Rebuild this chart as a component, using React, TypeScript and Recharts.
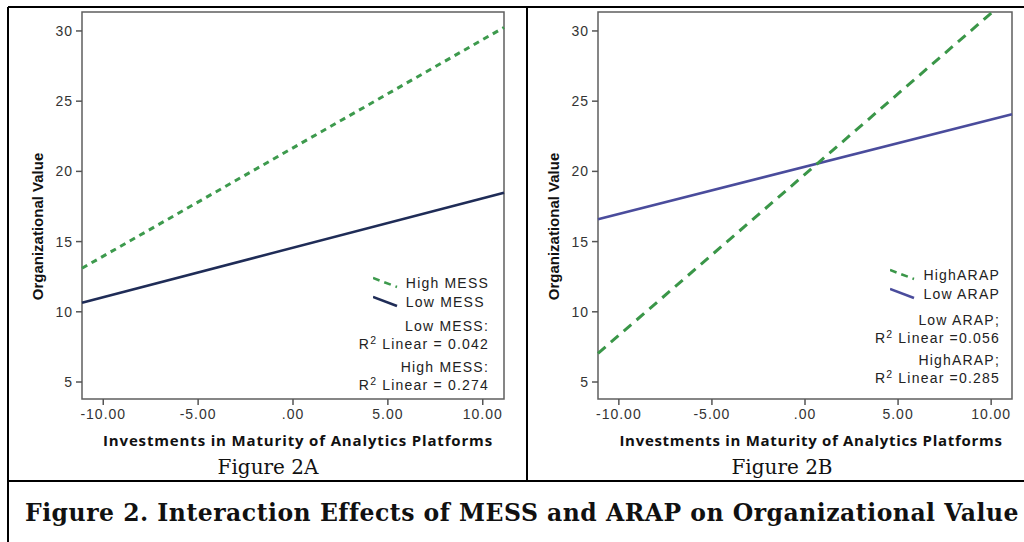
import { LineChart, Line, XAxis, YAxis, ReferenceArea, Legend } from "recharts";

// regression line end points, read at the left and right edge of each plot
const xEnds = [-11.12, 11.12];
const highMess = [13.1, 30.25];
const lowMess = [10.65, 18.48];
const highArap = [7.04, 32.55];
const lowArap = [16.59, 24.07];

const xDomain = [-11.12, 11.12];
const yDomain = [3.79, 31.35];
const xTicks = [-10, -5, 0, 5, 10];
const yTicks = [5, 10, 15, 20, 25, 30];

const messNames = ["High MESS", "Low MESS"];
const arapNames = ["HighARAP", "Low ARAP"];
const messFits = ["Low MESS:", " Linear = 0.042", "High MESS:", " Linear = 0.274"];
const arapFits = ["Low ARAP;", " Linear =0.056", "HighARAP;", " Linear =0.285"];

const SANS = '"Liberation Sans", Arial, sans-serif';
const SERIF = 'Georgia, "DejaVu Serif", serif';
const xTitle = "Investments in Maturity of Analytics Platforms";
const yTitle = "Organizational Value";

const fmtX = (v: number) => (v === 0 ? ".00" : v.toFixed(2));

function LegendBox({ payload, fits, gaps }: any) {
  const items = (payload || []).slice().sort((a: any, b: any) => (a.dataKey === "high" ? -1 : 1));
  const row = { lineHeight: "18.5px", whiteSpace: "nowrap" as const };
  const fitLine = (label: string, r2: string, mt: number) => (
    <div style={{ marginTop: mt, textAlign: "right", lineHeight: "17.5px" }}>
      <div>{label}</div>
      <div>
        R<span style={{ fontSize: 10.5, position: "relative", top: -5 }}>2</span>
        {r2}
      </div>
    </div>
  );
  return (
    <div style={{ fontFamily: SANS, fontSize: 14, letterSpacing: 1.2, color: "#222" }}>
      <div style={{ display: "grid", gridTemplateColumns: "auto auto", justifyContent: "end", columnGap: 8 }}>
        {items.map((it: any) => (
          <div key={it.value} style={{ display: "contents" }}>
            <svg width={25} height={18.5} style={{ display: "block" }}>
              <line
                x1={0} y1={4} x2={24} y2={13}
                stroke={it.color}
                strokeWidth={2.5}
                strokeDasharray={it.dataKey === "high" ? "7 5" : undefined}
              />
            </svg>
            <div style={row}>{it.value}</div>
          </div>
        ))}
      </div>
      {fitLine(fits[0], fits[1], gaps[0])}
      {fitLine(fits[2], fits[3], gaps[1])}
    </div>
  );
}

function Panel(p: any) {
  const data = xEnds.map((x, i) => ({ x, high: p.high[i], low: p.low[i] }));
  return (
    <div style={{ position: "absolute", left: p.left, top: 0, fontFamily: SANS }}>
      <LineChart width={p.width} height={450} data={data} margin={{ top: 12, right: p.marginRight, left: 0, bottom: 0 }}>
        <XAxis
          type="number"
          dataKey="x"
          domain={xDomain}
          ticks={xTicks}
          interval={0}
          tickFormatter={fmtX}
          height={51}
          axisLine={false}
          tickSize={6}
          tickMargin={4}
          tickLine={{ stroke: "#555", strokeWidth: 1.5 }}
          tick={{ fontSize: 14, fill: "#333", letterSpacing: 1 }}
          label={{
            content: ({ viewBox }: any) => (
              <text
                x={viewBox.x + viewBox.width / 2 + p.titleDx}
                y={viewBox.y + 41}
                textAnchor="middle"
                dominantBaseline="central"
                letterSpacing={p.titleSpacing}
                style={{ fontFamily: '"Open Sans", sans-serif', fontWeight: 700, fontSize: 15, fill: "#111" }}
              >
                {xTitle}
              </text>
            ),
          }}
        />
        <YAxis
          type="number"
          domain={yDomain}
          ticks={yTicks}
          interval={0}
          allowDataOverflow
          width={p.yAxisW}
          axisLine={false}
          tickSize={6}
          tickMargin={3}
          tickLine={{ stroke: "#555", strokeWidth: 1.5 }}
          tick={{ fontSize: 14, fill: "#333", letterSpacing: 1 }}
          label={{
            content: ({ viewBox }: any) => {
              const cx = viewBox.x + p.yLabelX;
              const cy = viewBox.y + viewBox.height / 2 + 21;
              return (
                <text
                  x={cx}
                  y={cy}
                  transform={`rotate(-90, ${cx}, ${cy})`}
                  textAnchor="middle"
                  dominantBaseline="central"
                  style={{ fontFamily: SANS, fontWeight: 700, fontSize: 15, fill: "#111" }}
                >
                  {yTitle}
                </text>
              );
            },
          }}
        />
        <Line
          dataKey="low"
          name={p.names[1]}
          stroke={p.lowColor}
          strokeWidth={2.5}
          dot={false}
          activeDot={false}
          isAnimationActive={false}
        />
        <Line
          dataKey="high"
          name={p.names[0]}
          stroke={p.highColor}
          strokeWidth={3}
          strokeDasharray={p.dash}
          dot={false}
          activeDot={false}
          isAnimationActive={false}
        />
        <ReferenceArea
          x1={xDomain[0]}
          x2={xDomain[1]}
          y1={yDomain[0]}
          y2={yDomain[1]}
          fill="none"
          stroke="#5f5f5f"
          strokeWidth={1.5}
        />
        <Legend
          layout="horizontal"
          verticalAlign="middle"
          align="center"
          wrapperStyle={{ top: p.legendTop, right: p.legendRight, left: "auto", width: "auto", height: "auto" }}
          content={(props: any) => <LegendBox payload={props.payload} fits={p.fits} gaps={p.gaps} />}
        />
      </LineChart>
    </div>
  );
}

const hLine = (x: number, y: number, w: number) => (
  <div style={{ position: "absolute", left: x, top: y - 1, width: w, height: 2, background: "#000" }} />
);
const vLine = (x: number, y: number, h: number) => (
  <div style={{ position: "absolute", left: x - 1, top: y, width: 2, height: h, background: "#000" }} />
);

const subCaption = (text: string, cx: number) => (
  <div style={{ position: "absolute", left: cx, top: 467, transform: "translate(-50%, -50%)", fontFamily: SERIF, fontSize: 20, whiteSpace: "nowrap", color: "#111" }}>
    {text}
  </div>
);

export default function App() {
  return (
    <div style={{ position: "absolute", left: 0, top: 0, width: 1024, height: 542, background: "#fff", overflow: "hidden" }}>
      <Panel
        left={0}
        width={520}
        marginRight={16}
        yAxisW={82}
        yLabelX={37}
        titleDx={5}
        titleSpacing={0.85}
        high={highMess}
        low={lowMess}
        names={messNames}
        fits={messFits}
        highColor="#3d9a4d"
        lowColor="#1f2c57"
        dash="6 5"
        legendTop={274}
        legendRight={31}
        gaps={[7, 5]}
      />
      <Panel
        left={527}
        width={497}
        marginRight={12}
        yAxisW={71}
        yLabelX={26}
        titleDx={6}
        titleSpacing={0.7}
        high={highArap}
        low={lowArap}
        names={arapNames}
        fits={arapFits}
        highColor="#3a9648"
        lowColor="#4a4c9c"
        dash="10 7"
        legendTop={266}
        legendRight={24}
        gaps={[9, 4]}
      />
      {hLine(8, 7, 1016)}
      {vLine(8, 7, 535)}
      {vLine(527, 7, 474)}
      {hLine(8, 481, 1016)}
      {subCaption("Figure 2A", 268)}
      {subCaption("Figure 2B", 782)}
      <div style={{ position: "absolute", left: 522, top: 513, transform: "translate(-50%, -50%)", fontFamily: SERIF, fontWeight: 700, fontSize: 23.5, letterSpacing: 0.5, whiteSpace: "nowrap", color: "#111" }}>
        Figure 2. Interaction Effects of MESS and ARAP on Organizational Value
      </div>
    </div>
  );
}
